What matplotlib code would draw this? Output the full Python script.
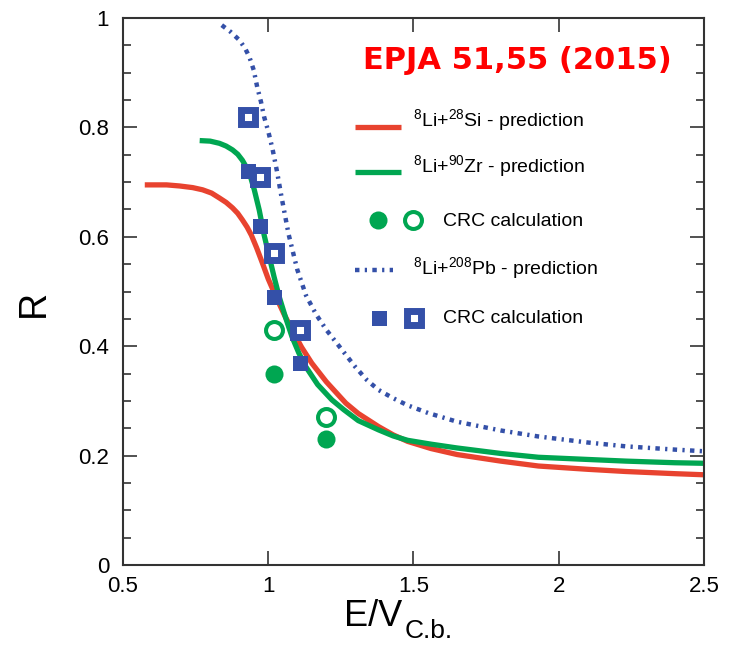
import numpy as np
import matplotlib
matplotlib.use("Agg")
import matplotlib.pyplot as plt
from matplotlib.ticker import MultipleLocator

plt.rcParams['font.family'] = ['Liberation Sans', 'DejaVu Sans']

# 8Li+28Si prediction (red)
si_x = [0.575, 0.65, 0.695, 0.74, 0.774, 0.805, 0.832, 0.855, 0.877, 0.895, 0.911, 0.927, 0.942, 0.96,
        0.98, 1.0, 1.027, 1.055, 1.082, 1.115, 1.15, 1.2, 1.267, 1.31, 1.38, 1.43, 1.48, 1.56,
        1.65, 1.8, 1.93, 2.1, 2.23, 2.4, 2.5]
si_y = [0.695, 0.695, 0.693, 0.69, 0.686, 0.68, 0.671, 0.663, 0.653, 0.643, 0.631, 0.618, 0.603, 0.58,
        0.552, 0.523, 0.49, 0.458, 0.43, 0.398, 0.369, 0.335, 0.296, 0.277, 0.253, 0.238, 0.226, 0.213,
        0.202, 0.19, 0.181, 0.175, 0.171, 0.167, 0.165]

# 8Li+90Zr prediction (green)
zr_x = [0.764, 0.80, 0.832, 0.855, 0.877, 0.895, 0.911, 0.925, 0.935, 0.952, 0.969, 0.986, 1.003,
        1.02, 1.038, 1.06, 1.082, 1.105, 1.13, 1.17, 1.219, 1.26, 1.31, 1.38, 1.43, 1.48, 1.56,
        1.65, 1.8, 1.93, 2.1, 2.23, 2.4, 2.5]
zr_y = [0.776, 0.775, 0.771, 0.766, 0.759, 0.751, 0.74, 0.727, 0.717, 0.686, 0.649, 0.603, 0.565,
        0.527, 0.49, 0.452, 0.417, 0.388, 0.362, 0.33, 0.302, 0.284, 0.264, 0.247, 0.236, 0.228, 0.221,
        0.214, 0.204, 0.197, 0.193, 0.19, 0.187, 0.186]

# 8Li+208Pb prediction (blue dotted)
pb_x = [0.84, 0.87, 0.90, 0.92, 0.935, 0.95, 0.962, 0.975, 0.986, 1.0, 1.015, 1.03, 1.045, 1.07,
        1.10, 1.13, 1.165, 1.2, 1.25, 1.3, 1.34, 1.38, 1.43, 1.48, 1.55, 1.65, 1.8, 1.93, 2.1,
        2.23, 2.4, 2.5]
pb_y = [0.987, 0.975, 0.96, 0.945, 0.929, 0.905, 0.874, 0.847, 0.819, 0.793, 0.76, 0.72, 0.675, 0.605,
        0.54, 0.493, 0.458, 0.43, 0.396, 0.362, 0.338, 0.32, 0.305, 0.292, 0.278, 0.262, 0.246, 0.235, 0.224,
        0.217, 0.211, 0.208]

# CRC calculations
zr_full_x = [1.02, 1.20]
zr_full_y = [0.35, 0.23]
zr_open_x = [1.02, 1.20]
zr_open_y = [0.43, 0.27]
pb_full_x = [0.93, 0.97, 1.02, 1.11]
pb_full_y = [0.72, 0.62, 0.49, 0.37]
pb_open_x = [0.93, 0.97, 1.02, 1.11]
pb_open_y = [0.82, 0.71, 0.57, 0.43]

red = '#E8432F'
green = '#00A651'
blue = '#3450A8'
dots = (0, (1.0, 1.2, 0.5, 1.2))

fig = plt.figure(figsize=(7.36, 6.45), dpi=100)
ax = fig.add_axes([0.1671, 0.124, 0.7894, 0.848])

ax.plot(si_x, si_y, color=red, lw=3.8, solid_capstyle='butt', solid_joinstyle='round')
ax.plot(zr_x, zr_y, color=green, lw=3.8, solid_capstyle='butt', solid_joinstyle='round')
ax.plot(pb_x, pb_y, color=blue, lw=3.2, linestyle=dots)

ax.plot(zr_full_x, zr_full_y, 'o', color=green, ms=13, mew=0)
ax.plot(zr_open_x, zr_open_y, 'o', mfc='white', mec=green, ms=12.2, mew=2.9)
ax.plot(pb_full_x, pb_full_y, 's', color=blue, ms=10.8, mew=0)
ax.plot(pb_open_x, pb_open_y, 's', mfc='white', mec=blue, ms=9.4, mew=5)

ax.set_xlim(0.5, 2.5)
ax.set_ylim(0, 1)
ax.yaxis.set_minor_locator(MultipleLocator(0.05))
ax.set_xticks([0.5, 1, 1.5, 2, 2.5])
ax.set_xticklabels(['0.5', '1', '1.5', '2', '2.5'])
ax.set_yticks([0, 0.2, 0.4, 0.6, 0.8, 1])
ax.set_yticklabels(['0', '0.2', '0.4', '0.6', '0.8', '1'])
ax.tick_params(which='both', direction='in', top=True, right=True, labelsize=16, color='#333333')
ax.tick_params(which='major', length=10, width=1.2)
ax.tick_params(which='minor', length=5.5, width=1.2)
ax.tick_params(axis='x', pad=8)
ax.tick_params(axis='y', pad=10)
for s in ax.spines.values():
    s.set_color('#333333')
    s.set_linewidth(1.5)

# axis titles
tr = ax.transAxes
ax.text(0.480, -0.112, 'E/V', transform=tr, fontsize=26, ha='right', va='baseline')
ax.text(0.485, -0.134, 'C.b.', transform=tr, fontsize=19, ha='left', va='baseline')
ax.text(-0.153, 0.479, 'R', transform=tr, fontsize=27, rotation=90, ha='center', va='center')

# hand drawn key, as in the original
ax.plot([0.399, 0.478], [0.801, 0.801], color=red, lw=3.8, transform=tr, solid_capstyle='butt')
ax.text(0.499, 0.800, '$^{\\mathregular{8}}$Li+$^{\\mathregular{28}}$Si - prediction', transform=tr,
        fontsize=14, va='baseline')
ax.plot([0.399, 0.478], [0.718, 0.718], color=green, lw=3.8, transform=tr, solid_capstyle='butt')
ax.text(0.499, 0.716, '$^{\\mathregular{8}}$Li+$^{\\mathregular{90}}$Zr - prediction', transform=tr,
        fontsize=14, va='baseline')
ax.plot([0.439], [0.631], 'o', color=green, ms=13, mew=0, transform=tr)
ax.plot([0.499], [0.631], 'o', mfc='white', mec=green, ms=12.2, mew=2.9, transform=tr)
ax.text(0.551, 0.620, 'CRC calculation', transform=tr, fontsize=14, va='baseline')
ax.plot([0.399, 0.465], [0.539, 0.539], color=blue, lw=3.2, linestyle=dots, transform=tr)
ax.text(0.499, 0.530, '$^{\\mathregular{8}}$Li+$^{\\mathregular{208}}$Pb - prediction', transform=tr,
        fontsize=14, va='baseline')
ax.plot([0.441], [0.452], 's', color=blue, ms=10.8, mew=0, transform=tr)
ax.plot([0.501], [0.452], 's', mfc='white', mec=blue, ms=9.4, mew=5, transform=tr)
ax.text(0.551, 0.442, 'CRC calculation', transform=tr, fontsize=14, va='baseline')

ax.text(0.678, 0.923, 'EPJA 51,55 (2015)', transform=tr, fontsize=22, fontweight='bold',
        color='#FF0000', ha='center', va='center', family='DejaVu Sans')

fig.savefig('out.png', dpi=100)
